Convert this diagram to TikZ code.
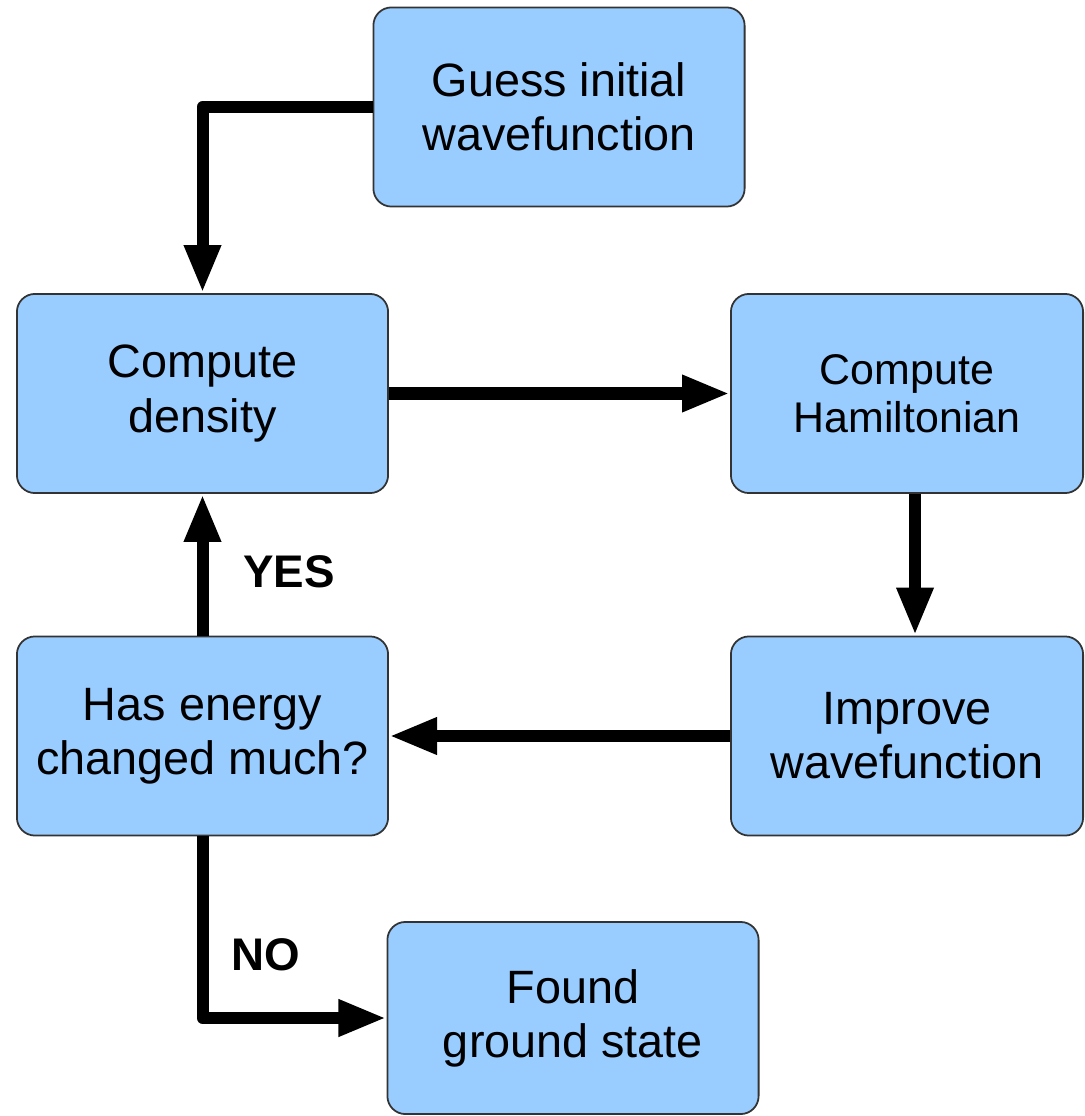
\documentclass[tikz,border=0pt]{standalone}
\usepackage{fontspec}
\setmainfont{Liberation Sans}
\usetikzlibrary{arrows.meta}
\definecolor{BoxBlue}{HTML}{99CCFF}
\definecolor{Rim}{HTML}{333333}

\begin{document}
\begin{tikzpicture}[x=0.01cm,y=-0.01cm,
  procbox/.style={draw=Rim,line width=0.5pt,fill=BoxBlue,rounded corners=0.18cm,
    minimum width=3.71cm,minimum height=1.99cm,align=center,inner sep=0pt,
    font=\fontsize{13.3}{15.4}\selectfont},
  flow/.style={line width=0.12cm,line join=round,-{Triangle[length=0.48cm,width=0.34cm]}},
  tag/.style={font=\fontsize{13}{15}\selectfont\bfseries}]
  \useasboundingbox (0,0) rectangle (1084,1116);
  \node[procbox] (guess) at (559,107) {Guess initial\\wavefunction};
  \node[procbox] (density) at (202.5,393.5) {Compute\\density};
  \node[procbox,minimum width=3.52cm,font=\fontsize{12.2}{13.8}\selectfont] (hamil) at (907,393.5) {Compute\\Hamiltonian};
  \node[procbox,minimum width=3.52cm] (improve) at (907,736) {Improve\\wavefunction};
  \node[procbox] (check) at (202.5,736) {Has energy\\changed much?};
  \node[procbox,minimum height=1.92cm] (found) at (573,1018) {Found\\ground state};
  \node[tag] (yes) at (289,572) {YES};
  \node[tag] (no) at (266,955) {NO};
  % connectors
  \draw[flow] (guess.west) -| (density.north);
  \draw[flow] (density.east) -- (hamil.west);
  \draw[flow] ([xshift=0.08cm]hamil.south) -- ([xshift=0.08cm]improve.north);
  \draw[flow] (improve.west) -- (check.east);
  \draw[flow] (check.north) -- (density.south);
  \draw[flow] (check.south) |- (found.west);
\end{tikzpicture}
\end{document}
